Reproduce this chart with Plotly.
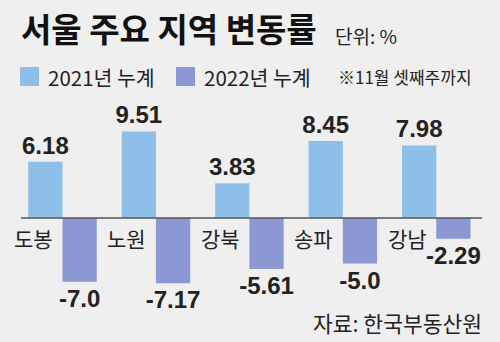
import plotly.graph_objects as go

categories = ["도봉", "노원", "강북", "송파", "강남"]
values_2021 = [6.18, 9.51, 3.83, 8.45, 7.98]
values_2022 = [-7.0, -7.17, -5.61, -5.0, -2.29]
series_names = ["2021년 누계", "2022년 누계"]

C21 = "#8ebfe9"
C22 = "#8b98d3"
BG = "#efeff0"
TXT = "#222222"
NUM_FONT = "Liberation Sans Narrow, Liberation Sans, Arial"
KR_FONT = "Noto Sans CJK KR, Noto Sans, sans-serif"

fig = go.Figure()
for name, vals, col in [(series_names[0], values_2021, C21), (series_names[1], values_2022, C22)]:
    fig.add_trace(go.Bar(
        x=categories, y=vals, name=name, marker=dict(color=col, line=dict(width=0)),
        text=[str(v) for v in vals], textposition="outside", constraintext="none",
        textfont=dict(family=NUM_FONT, size=24, color=TXT, weight="bold"),
        cliponaxis=False, showlegend=False, hoverinfo="skip",
    ))

annotations = []
for c in categories:
    annotations.append(dict(x=c, y=0, xref="x", yref="y", text=c, showarrow=False,
                            xshift=-29, yshift=-20, xanchor="center", yanchor="middle",
                            font=dict(family=KR_FONT, size=21, color=TXT)))

# Title and notes
annotations += [
    dict(x=19, y=342 - 28, xref="paper", yref="paper", text="<b>서울 주요 지역 변동률</b>",
         showarrow=False, xanchor="left", yanchor="middle",
         font=dict(family=KR_FONT, size=33, color="#111111")),
    dict(x=333, y=342 - 35, xref="paper", yref="paper", text="단위: %",
         showarrow=False, xanchor="left", yanchor="middle",
         font=dict(family=KR_FONT, size=19, color=TXT)),
    dict(x=46, y=342 - 77, xref="paper", yref="paper", text=series_names[0],
         showarrow=False, xanchor="left", yanchor="middle",
         font=dict(family=KR_FONT, size=20.5, color=TXT)),
    dict(x=202, y=342 - 77, xref="paper", yref="paper", text=series_names[1],
         showarrow=False, xanchor="left", yanchor="middle",
         font=dict(family=KR_FONT, size=20.5, color=TXT)),
    dict(x=336, y=342 - 77, xref="paper", yref="paper", text="※11월 셋째주까지",
         showarrow=False, xanchor="left", yanchor="middle",
         font=dict(family=KR_FONT, size=17, color=TXT)),
    dict(x=484, y=342 - 322, xref="paper", yref="paper", text="자료: 한국부동산원",
         showarrow=False, xanchor="right", yanchor="middle",
         font=dict(family=KR_FONT, size=21.5, color=TXT)),
]

W, H = 500, 342
ml, mr, mt, mb = 12, 17, 100, 32
pw, ph = W - ml - mr, H - mt - mb

# convert pixel-based annotation positions to paper coordinates
for a in annotations:
    if a["xref"] == "paper":
        a["x"] = (a["x"] - ml) / pw
        a["y"] = (a["y"] - mb) / ph

shapes = [
    dict(type="line", xref="paper", yref="y", x0=(21 - ml) / pw, x1=(482 - ml) / pw, y0=0, y1=0,
         line=dict(color="#555555", width=1.5)),
    dict(type="rect", xref="paper", yref="paper",
         x0=(20 - ml) / pw, x1=(39 - ml) / pw, y0=(H - 86 - mb) / ph, y1=(H - 67 - mb) / ph,
         fillcolor=C21, line=dict(width=0)),
    dict(type="rect", xref="paper", yref="paper",
         x0=(176 - ml) / pw, x1=(195 - ml) / pw, y0=(H - 86 - mb) / ph, y1=(H - 67 - mb) / ph,
         fillcolor=C22, line=dict(width=0)),
]

scale = 9.1
base_px = 218
fig.update_layout(
    width=W, height=H,
    margin=dict(l=ml, r=mr, t=mt, b=mb),
    paper_bgcolor=BG, plot_bgcolor=BG,
    barmode="group", bargap=0.267, bargroupgap=0,
    xaxis=dict(showticklabels=False, showgrid=False, zeroline=False, showline=False, fixedrange=True),
    yaxis=dict(range=[-(H - mb - base_px) / scale, (base_px - mt) / scale],
               showticklabels=False, showgrid=False, zeroline=False, showline=False),
    annotations=annotations, shapes=shapes,
    uniformtext=dict(mode=False),
)
fig.write_html("out.html")
